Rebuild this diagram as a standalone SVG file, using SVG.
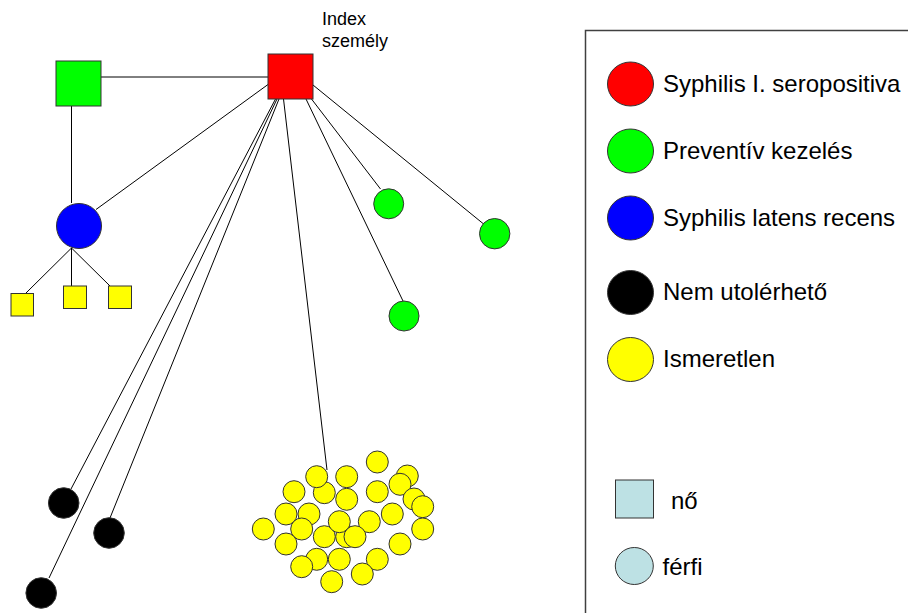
<svg xmlns="http://www.w3.org/2000/svg" width="908" height="613" viewBox="0 0 908 613">
<style>
.ln{stroke:#000;stroke-width:1;fill:none}
.nd{stroke:#333;stroke-width:1}
.red{fill:#ff0000}.grn{fill:#00ff00}.blu{fill:#0000ff}.blk{fill:#000}.yel{fill:#ffff00}.lb{fill:#bde1e4}
.t{font-family:"Liberation Sans",Arial,sans-serif;fill:#000}
</style>
<rect width="908" height="613" fill="#fff"/>
<g id="connectors">
<line class="ln" x1="101" y1="77" x2="268" y2="77"/>
<line class="ln" x1="71.5" y1="106" x2="71.5" y2="203"/>
<line class="ln" x1="268" y1="84.5" x2="96" y2="209.5"/>
<line class="ln" x1="71.5" y1="248" x2="26" y2="293"/>
<line class="ln" x1="71.5" y1="248" x2="71.5" y2="286"/>
<line class="ln" x1="71.5" y1="248" x2="110" y2="286"/>
<line class="ln" x1="313" y1="85" x2="483" y2="223.5"/>
<line class="ln" x1="311.5" y1="99" x2="380.5" y2="189"/>
<line class="ln" x1="306" y1="99" x2="403" y2="301"/>
<line class="ln" x1="283.5" y1="99" x2="327" y2="470"/>
<line class="ln" x1="275.5" y1="99" x2="71" y2="489"/>
<line class="ln" x1="277" y1="99" x2="49" y2="578"/>
<line class="ln" x1="279" y1="99" x2="110" y2="518"/>
</g>
<g id="index">
<rect class="nd red" x="268" y="54" width="45" height="45"/>
<text class="t" x="322" y="25" font-size="18">Index</text>
<text class="t" x="322" y="47" font-size="18">személy</text>
</g>
<g id="green-square"><rect class="nd grn" x="56" y="61" width="45" height="45"/></g>
<g id="blue-circle"><circle class="nd blu" cx="79" cy="226" r="22.5"/></g>
<g id="child1"><rect class="nd yel" x="11" y="293.5" width="22.5" height="22.5"/></g>
<g id="child2"><rect class="nd yel" x="63.5" y="286" width="23" height="22.5"/></g>
<g id="child3"><rect class="nd yel" x="108.5" y="286" width="23" height="22.5"/></g>
<g id="green1"><circle class="nd grn" cx="388.7" cy="203.8" r="15"/></g>
<g id="green2"><circle class="nd grn" cx="404" cy="316" r="15"/></g>
<g id="green3"><circle class="nd grn" cx="494.7" cy="233.7" r="15.2"/></g>
<g id="black1"><circle class="nd blk" cx="63.7" cy="503" r="15.3"/></g>
<g id="black2"><circle class="nd blk" cx="109" cy="533" r="15.3"/></g>
<g id="black3"><circle class="nd blk" cx="41.2" cy="593" r="15.3"/></g>
<g id="unknown-cluster" class="nd yel">
<circle cx="324.3" cy="492.7" r="11"/>
<circle cx="316.7" cy="476.7" r="11"/>
<circle cx="407.3" cy="476" r="11"/>
<circle cx="400" cy="484.3" r="11"/>
<circle cx="414" cy="499" r="11"/>
<circle cx="422.7" cy="506.7" r="11"/>
<circle cx="377.3" cy="462" r="11"/>
<circle cx="346.7" cy="476.7" r="11"/>
<circle cx="346.7" cy="499.3" r="11"/>
<circle cx="294" cy="491.7" r="11"/>
<circle cx="377.3" cy="491.7" r="11"/>
<circle cx="286" cy="514" r="11"/>
<circle cx="309" cy="514" r="11"/>
<circle cx="301.7" cy="529" r="11"/>
<circle cx="392.3" cy="514" r="11"/>
<circle cx="346.7" cy="536.7" r="11"/>
<circle cx="324.3" cy="536.7" r="11"/>
<circle cx="339.3" cy="521.7" r="11"/>
<circle cx="369.3" cy="521.7" r="11"/>
<circle cx="355" cy="536.7" r="11"/>
<circle cx="263.3" cy="529" r="11"/>
<circle cx="422.7" cy="529" r="11"/>
<circle cx="286" cy="544" r="11"/>
<circle cx="400" cy="544" r="11"/>
<circle cx="316.7" cy="559.3" r="11"/>
<circle cx="339.3" cy="559.3" r="11"/>
<circle cx="301.7" cy="566.7" r="11"/>
<circle cx="377.3" cy="559.3" r="11"/>
<circle cx="362.3" cy="574" r="11"/>
<circle cx="331.7" cy="581.7" r="11"/>
</g>
<g id="legend">
<rect x="585.5" y="30.5" width="400" height="620" fill="none" stroke="#404040" stroke-width="1.5"/>
<ellipse class="nd red" cx="630.5" cy="84" rx="23" ry="22"/>
<text class="t" x="663" y="92" font-size="24">Syphilis I. seropositiva</text>
<ellipse class="nd grn" cx="630.5" cy="151" rx="23" ry="22"/>
<text class="t" x="663" y="159" font-size="24">Preventív kezelés</text>
<ellipse class="nd blu" cx="630.5" cy="218" rx="23" ry="22"/>
<text class="t" x="663" y="226" font-size="24">Syphilis latens recens</text>
<ellipse class="nd blk" cx="630.5" cy="292.5" rx="23" ry="22"/>
<text class="t" x="663" y="300" font-size="24">Nem utolérhető</text>
<ellipse class="nd yel" cx="630.5" cy="359.5" rx="23" ry="22"/>
<text class="t" x="663" y="367" font-size="24">Ismeretlen</text>
<rect class="nd lb" x="615.5" y="480" width="38" height="38"/>
<text class="t" x="671" y="509" font-size="24">nő</text>
<ellipse class="nd lb" cx="634.3" cy="566" rx="19" ry="18.5"/>
<text class="t" x="662.5" y="575" font-size="24">férfi</text>
</g>
</svg>
